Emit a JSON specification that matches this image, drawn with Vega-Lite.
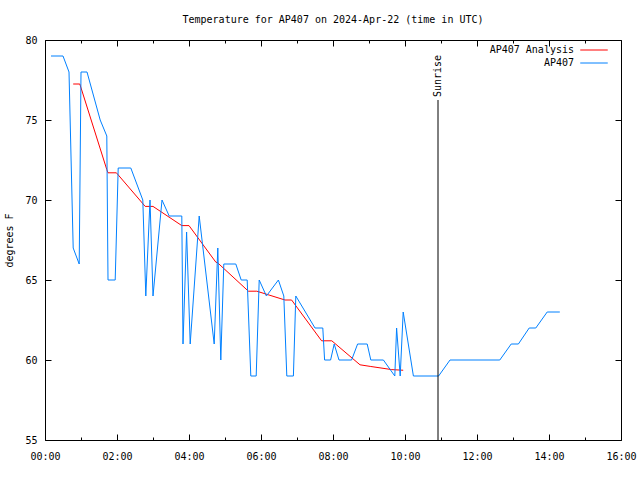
{
  "$schema": "https://vega.github.io/schema/vega-lite/v6.json",
  "width": 576,
  "height": 400,
  "autosize": {"type": "none"},
  "padding": {"left": 45, "top": 40, "right": 19, "bottom": 40},
  "background": "white",
  "title": {"text": "Temperature for AP407 on 2024-Apr-22 (time in UTC)", "font": "DejaVu Sans Mono", "fontSize": 10, "fontWeight": "normal", "color": "black", "offset": 10, "anchor": "middle"},
  "config": {
    "view": {"stroke": "black", "strokeWidth": 1},
    "axis": {"domain": false, "grid": false, "labelFont": "DejaVu Sans Mono", "labelFontSize": 10, "labelColor": "black", "tickColor": "black", "titleFont": "DejaVu Sans Mono", "titleFontSize": 10, "titleFontWeight": "normal", "titleColor": "black"},
    "legend": {"orient": "none", "legendX": 543, "legendY": 4, "symbolType": "M-2.5,0H2.5", "symbolStrokeWidth": 1, "symbolSize": 121, "labelAlign": "right", "labelOffset": -26, "labelFont": "DejaVu Sans Mono", "labelFontSize": 10, "labelColor": "black", "rowPadding": 2, "title": null}
  },
  "datasets": {
    "analysis": [
      {"time": "2024-04-22T00:47:00Z", "temp": 77.25, "series": "AP407 Analysis"},
      {"time": "2024-04-22T00:58:00Z", "temp": 77.25, "series": "AP407 Analysis"},
      {"time": "2024-04-22T01:43:00Z", "temp": 71.9, "series": "AP407 Analysis"},
      {"time": "2024-04-22T01:45:00Z", "temp": 71.7, "series": "AP407 Analysis"},
      {"time": "2024-04-22T01:59:00Z", "temp": 71.7, "series": "AP407 Analysis"},
      {"time": "2024-04-22T02:47:00Z", "temp": 69.6, "series": "AP407 Analysis"},
      {"time": "2024-04-22T03:00:00Z", "temp": 69.6, "series": "AP407 Analysis"},
      {"time": "2024-04-22T03:48:00Z", "temp": 68.4, "series": "AP407 Analysis"},
      {"time": "2024-04-22T04:00:00Z", "temp": 68.4, "series": "AP407 Analysis"},
      {"time": "2024-04-22T04:45:00Z", "temp": 66.1, "series": "AP407 Analysis"},
      {"time": "2024-04-22T04:47:00Z", "temp": 66.1, "series": "AP407 Analysis"},
      {"time": "2024-04-22T05:39:00Z", "temp": 64.3, "series": "AP407 Analysis"},
      {"time": "2024-04-22T05:53:00Z", "temp": 64.3, "series": "AP407 Analysis"},
      {"time": "2024-04-22T06:40:00Z", "temp": 63.75, "series": "AP407 Analysis"},
      {"time": "2024-04-22T06:51:00Z", "temp": 63.75, "series": "AP407 Analysis"},
      {"time": "2024-04-22T07:41:00Z", "temp": 61.2, "series": "AP407 Analysis"},
      {"time": "2024-04-22T07:58:00Z", "temp": 61.2, "series": "AP407 Analysis"},
      {"time": "2024-04-22T08:45:00Z", "temp": 59.7, "series": "AP407 Analysis"},
      {"time": "2024-04-22T09:02:00Z", "temp": 59.6, "series": "AP407 Analysis"},
      {"time": "2024-04-22T09:38:00Z", "temp": 59.4, "series": "AP407 Analysis"},
      {"time": "2024-04-22T09:57:00Z", "temp": 59.36, "series": "AP407 Analysis"}
    ],
    "obs": [
      {"time": "2024-04-22T00:10:00Z", "temp": 79, "series": "AP407"},
      {"time": "2024-04-22T00:30:00Z", "temp": 79, "series": "AP407"},
      {"time": "2024-04-22T00:40:00Z", "temp": 78, "series": "AP407"},
      {"time": "2024-04-22T00:47:00Z", "temp": 67, "series": "AP407"},
      {"time": "2024-04-22T00:57:00Z", "temp": 66, "series": "AP407"},
      {"time": "2024-04-22T01:00:00Z", "temp": 78, "series": "AP407"},
      {"time": "2024-04-22T01:10:00Z", "temp": 78, "series": "AP407"},
      {"time": "2024-04-22T01:32:00Z", "temp": 75, "series": "AP407"},
      {"time": "2024-04-22T01:43:00Z", "temp": 74, "series": "AP407"},
      {"time": "2024-04-22T01:45:00Z", "temp": 65, "series": "AP407"},
      {"time": "2024-04-22T01:57:00Z", "temp": 65, "series": "AP407"},
      {"time": "2024-04-22T02:02:00Z", "temp": 72, "series": "AP407"},
      {"time": "2024-04-22T02:23:00Z", "temp": 72, "series": "AP407"},
      {"time": "2024-04-22T02:43:00Z", "temp": 70, "series": "AP407"},
      {"time": "2024-04-22T02:48:00Z", "temp": 64, "series": "AP407"},
      {"time": "2024-04-22T02:55:00Z", "temp": 70, "series": "AP407"},
      {"time": "2024-04-22T03:00:00Z", "temp": 64, "series": "AP407"},
      {"time": "2024-04-22T03:15:00Z", "temp": 70, "series": "AP407"},
      {"time": "2024-04-22T03:27:00Z", "temp": 69, "series": "AP407"},
      {"time": "2024-04-22T03:48:00Z", "temp": 69, "series": "AP407"},
      {"time": "2024-04-22T03:50:00Z", "temp": 61, "series": "AP407"},
      {"time": "2024-04-22T03:56:00Z", "temp": 68, "series": "AP407"},
      {"time": "2024-04-22T04:02:00Z", "temp": 61, "series": "AP407"},
      {"time": "2024-04-22T04:17:00Z", "temp": 69, "series": "AP407"},
      {"time": "2024-04-22T04:42:00Z", "temp": 61, "series": "AP407"},
      {"time": "2024-04-22T04:48:00Z", "temp": 67, "series": "AP407"},
      {"time": "2024-04-22T04:53:00Z", "temp": 60, "series": "AP407"},
      {"time": "2024-04-22T04:58:00Z", "temp": 66, "series": "AP407"},
      {"time": "2024-04-22T05:18:00Z", "temp": 66, "series": "AP407"},
      {"time": "2024-04-22T05:27:00Z", "temp": 65, "series": "AP407"},
      {"time": "2024-04-22T05:37:00Z", "temp": 65, "series": "AP407"},
      {"time": "2024-04-22T05:43:00Z", "temp": 59, "series": "AP407"},
      {"time": "2024-04-22T05:52:00Z", "temp": 59, "series": "AP407"},
      {"time": "2024-04-22T05:57:00Z", "temp": 65, "series": "AP407"},
      {"time": "2024-04-22T06:09:00Z", "temp": 64, "series": "AP407"},
      {"time": "2024-04-22T06:29:00Z", "temp": 65, "series": "AP407"},
      {"time": "2024-04-22T06:38:00Z", "temp": 64, "series": "AP407"},
      {"time": "2024-04-22T06:43:00Z", "temp": 59, "series": "AP407"},
      {"time": "2024-04-22T06:54:00Z", "temp": 59, "series": "AP407"},
      {"time": "2024-04-22T06:58:00Z", "temp": 64, "series": "AP407"},
      {"time": "2024-04-22T07:30:00Z", "temp": 62, "series": "AP407"},
      {"time": "2024-04-22T07:43:00Z", "temp": 62, "series": "AP407"},
      {"time": "2024-04-22T07:46:00Z", "temp": 60, "series": "AP407"},
      {"time": "2024-04-22T07:56:00Z", "temp": 60, "series": "AP407"},
      {"time": "2024-04-22T08:02:00Z", "temp": 61, "series": "AP407"},
      {"time": "2024-04-22T08:10:00Z", "temp": 60, "series": "AP407"},
      {"time": "2024-04-22T08:31:00Z", "temp": 60, "series": "AP407"},
      {"time": "2024-04-22T08:41:00Z", "temp": 61, "series": "AP407"},
      {"time": "2024-04-22T08:57:00Z", "temp": 61, "series": "AP407"},
      {"time": "2024-04-22T09:03:00Z", "temp": 60, "series": "AP407"},
      {"time": "2024-04-22T09:24:00Z", "temp": 60, "series": "AP407"},
      {"time": "2024-04-22T09:43:00Z", "temp": 59, "series": "AP407"},
      {"time": "2024-04-22T09:46:00Z", "temp": 62, "series": "AP407"},
      {"time": "2024-04-22T09:50:00Z", "temp": 60, "series": "AP407"},
      {"time": "2024-04-22T09:52:00Z", "temp": 59, "series": "AP407"},
      {"time": "2024-04-22T09:57:00Z", "temp": 63, "series": "AP407"},
      {"time": "2024-04-22T10:14:00Z", "temp": 59, "series": "AP407"},
      {"time": "2024-04-22T10:56:00Z", "temp": 59, "series": "AP407"},
      {"time": "2024-04-22T11:15:00Z", "temp": 60, "series": "AP407"},
      {"time": "2024-04-22T12:38:00Z", "temp": 60, "series": "AP407"},
      {"time": "2024-04-22T12:57:00Z", "temp": 61, "series": "AP407"},
      {"time": "2024-04-22T13:09:00Z", "temp": 61, "series": "AP407"},
      {"time": "2024-04-22T13:27:00Z", "temp": 62, "series": "AP407"},
      {"time": "2024-04-22T13:38:00Z", "temp": 62, "series": "AP407"},
      {"time": "2024-04-22T13:57:00Z", "temp": 63, "series": "AP407"},
      {"time": "2024-04-22T14:18:00Z", "temp": 63, "series": "AP407"}
    ],
    "sunrise": [
      {"time": "2024-04-22T10:55:00Z", "top": 76.25, "bottom": 55, "label": "Sunrise"}
    ]
  },
  "layer": [
    {
      "data": {"name": "analysis"},
      "mark": {"type": "line", "strokeWidth": 1},
      "encoding": {
        "x": {"field": "time", "type": "temporal", "title": null,
          "scale": {"type": "utc", "domain": [{"year": 2024, "month": 4, "date": 22, "hours": 0, "utc": true}, {"year": 2024, "month": 4, "date": 22, "hours": 16, "utc": true}]},
          "axis": {"orient": "bottom", "values": [
              {"year": 2024, "month": 4, "date": 22, "hours": 0, "utc": true},
              {"year": 2024, "month": 4, "date": 22, "hours": 1, "utc": true},
              {"year": 2024, "month": 4, "date": 22, "hours": 2, "utc": true},
              {"year": 2024, "month": 4, "date": 22, "hours": 3, "utc": true},
              {"year": 2024, "month": 4, "date": 22, "hours": 4, "utc": true},
              {"year": 2024, "month": 4, "date": 22, "hours": 5, "utc": true},
              {"year": 2024, "month": 4, "date": 22, "hours": 6, "utc": true},
              {"year": 2024, "month": 4, "date": 22, "hours": 7, "utc": true},
              {"year": 2024, "month": 4, "date": 22, "hours": 8, "utc": true},
              {"year": 2024, "month": 4, "date": 22, "hours": 9, "utc": true},
              {"year": 2024, "month": 4, "date": 22, "hours": 10, "utc": true},
              {"year": 2024, "month": 4, "date": 22, "hours": 11, "utc": true},
              {"year": 2024, "month": 4, "date": 22, "hours": 12, "utc": true},
              {"year": 2024, "month": 4, "date": 22, "hours": 13, "utc": true},
              {"year": 2024, "month": 4, "date": 22, "hours": 14, "utc": true},
              {"year": 2024, "month": 4, "date": 22, "hours": 15, "utc": true},
              {"year": 2024, "month": 4, "date": 22, "hours": 16, "utc": true}],
            "labelExpr": "utchours(datum.value) % 2 == 0 ? utcFormat(datum.value, '%H:%M') : ''",
            "tickSize": {"condition": {"test": "utchours(datum.value) % 2 == 0", "value": -6}, "value": -3},
            "labelPadding": 17, "labelFlush": false, "labelOverlap": false}},
        "y": {"field": "temp", "type": "quantitative", "title": "degrees F",
          "scale": {"domain": [55, 80], "nice": false, "zero": false},
          "axis": {"orient": "left", "values": [55, 60, 65, 70, 75, 80], "tickSize": -6, "labelPadding": 14, "titlePadding": 10}},
        "color": {"field": "series", "type": "nominal",
          "scale": {"domain": ["AP407 Analysis", "AP407"], "range": ["#ff0000", "#0080ff"]},
          "legend": {"title": null}}
      }
    },
    {
      "data": {"name": "obs"},
      "mark": {"type": "line", "strokeWidth": 1},
      "encoding": {
        "x": {"field": "time", "type": "temporal",
          "axis": {"orient": "top", "title": null, "labels": false, "values": [
              {"year": 2024, "month": 4, "date": 22, "hours": 0, "utc": true},
              {"year": 2024, "month": 4, "date": 22, "hours": 1, "utc": true},
              {"year": 2024, "month": 4, "date": 22, "hours": 2, "utc": true},
              {"year": 2024, "month": 4, "date": 22, "hours": 3, "utc": true},
              {"year": 2024, "month": 4, "date": 22, "hours": 4, "utc": true},
              {"year": 2024, "month": 4, "date": 22, "hours": 5, "utc": true},
              {"year": 2024, "month": 4, "date": 22, "hours": 6, "utc": true},
              {"year": 2024, "month": 4, "date": 22, "hours": 7, "utc": true},
              {"year": 2024, "month": 4, "date": 22, "hours": 8, "utc": true},
              {"year": 2024, "month": 4, "date": 22, "hours": 9, "utc": true},
              {"year": 2024, "month": 4, "date": 22, "hours": 10, "utc": true},
              {"year": 2024, "month": 4, "date": 22, "hours": 11, "utc": true},
              {"year": 2024, "month": 4, "date": 22, "hours": 12, "utc": true},
              {"year": 2024, "month": 4, "date": 22, "hours": 13, "utc": true},
              {"year": 2024, "month": 4, "date": 22, "hours": 14, "utc": true},
              {"year": 2024, "month": 4, "date": 22, "hours": 15, "utc": true},
              {"year": 2024, "month": 4, "date": 22, "hours": 16, "utc": true}],
            "tickSize": {"condition": {"test": "utchours(datum.value) % 2 == 0", "value": -6}, "value": -3}}},
        "y": {"field": "temp", "type": "quantitative",
          "axis": {"orient": "right", "title": null, "labels": false, "values": [55, 60, 65, 70, 75, 80], "tickSize": -6}},
        "color": {"field": "series", "type": "nominal"}
      }
    },
    {
      "data": {"name": "sunrise"},
      "mark": {"type": "rule", "color": "black", "strokeWidth": 1},
      "encoding": {
        "x": {"field": "time", "type": "temporal", "axis": null},
        "y": {"field": "top", "type": "quantitative", "axis": null},
        "y2": {"field": "bottom"}
      }
    },
    {
      "data": {"name": "sunrise"},
      "mark": {"type": "text", "angle": 270, "align": "left", "baseline": "middle", "font": "DejaVu Sans Mono", "fontSize": 10, "color": "black", "dx": 3},
      "encoding": {
        "x": {"field": "time", "type": "temporal", "axis": null},
        "y": {"field": "top", "type": "quantitative", "axis": null},
        "text": {"field": "label"}
      }
    }
  ],
  "resolve": {"axis": {"x": "independent", "y": "independent"}}
}
